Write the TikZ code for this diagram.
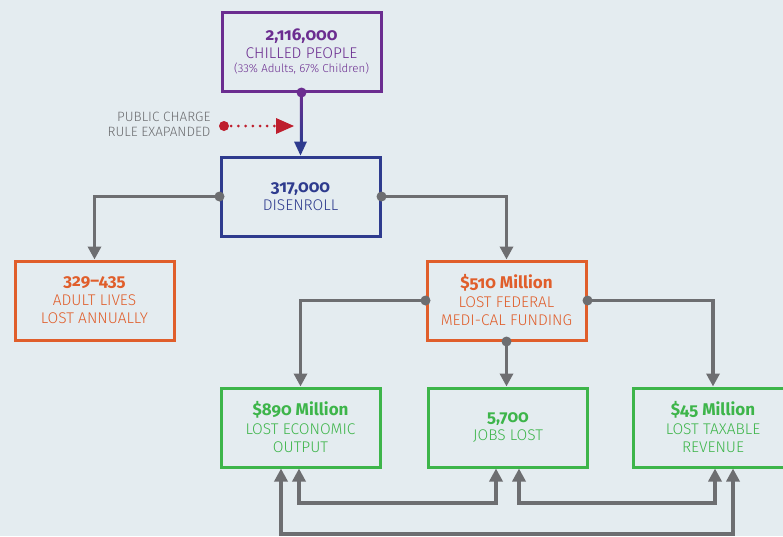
\documentclass[tikz,border=0pt]{standalone}
\usepackage{fontspec}
\setmainfont{Fira Sans Light}
\newfontfamily\numfont{Fira Sans}[Numbers=OldStyle]
\usetikzlibrary{arrows.meta,calc}
\definecolor{bgc}{HTML}{E4ECF0}
\definecolor{pur}{HTML}{6B2D90}
\definecolor{blu}{HTML}{2E3B8E}
\definecolor{org}{HTML}{E05E2B}
\definecolor{grn}{HTML}{3DB54A}
\definecolor{gry}{HTML}{6D6E71}
\definecolor{rd}{HTML}{BE1E2D}
\tikzset{
  box/.style={draw, line width=3pt, rectangle, minimum width=159pt, minimum height=79pt,
    inner sep=0pt, align=center, font=\fontsize{15.5}{18.5}\selectfont},
  conn/.style={draw=gry, line width=3.5pt, -{Triangle[width=13pt,length=13pt]}},
  biconn/.style={draw=gry, line width=3.5pt, {Triangle[width=13pt,length=13pt]}-{Triangle[width=13pt,length=13pt]}},
}
\newcommand{\bignum}[1]{{\numfont\bfseries\fontsize{17}{18.5}\selectfont #1}}
\begin{document}
\begin{tikzpicture}[x=1pt,y=-1pt]
\fill[bgc] (0,0) rectangle (783,536);
\useasboundingbox (0,0) rectangle (783,536);
\clip (0,0) rectangle (783,536);

\node[box, draw=pur, text=pur] (top) at (301.5,51.5)
  {\bignum{2,116,000}\\[-1pt]CHILLED PEOPLE\\[-4pt]{\fontsize{11.5}{14}\selectfont(33\% Adults, 67\% Children)}};
\node[box, draw=blu, text=blu] (dis) at (300.5,196.5) {\bignum{317,000}\\DISENROLL};
\node[box, draw=org, text=org] (adult) at (94.5,300.5) {\bignum{329–435}\\ADULT LIVES\\LOST ANNUALLY};
\node[box, draw=org, text=org] (fed) at (506.5,300.5) {\bignum{\$510 Million}\\LOST FEDERAL\\MEDI-CAL FUNDING};
\node[box, draw=grn, text=grn] (econ) at (300.5,427.5) {\bignum{\$890 Million}\\LOST ECONOMIC\\OUTPUT};
\node[box, draw=grn, text=grn] (jobs) at (508,427.5) {\bignum{5,700}\\JOBS LOST};
\node[box, draw=grn, text=grn, minimum width=160pt] (tax) at (713,427.5) {\bignum{\$45 Million}\\LOST TAXABLE\\REVENUE};

% purple / blue connector
\path[top color=pur, bottom color=blu] ($(top.south)+(-1.75,0)$) rectangle ($(dis.north)+(1.75,-12)$);
\fill[blu] (dis.north) -- ++(-6.5,-14) -- ++(13,0) -- cycle;
\fill[pur] (top.south) circle (5pt);

% public charge
\node[anchor=east, align=right, text=gry, font=\fontsize{13.5}{15}\selectfont] (pc) at (214,124.5) {PUBLIC CHARGE\\RULE EXAPANDED};
\coordinate (r1) at (224,126);
\coordinate (r2) at (294,126);
\draw[rd, line width=3pt, line cap=round, dash pattern=on 0pt off 7.2pt] (r1) -- ($(r2)+(-16,0)$);
\fill[rd] (r1) circle (5pt);
\fill[rd] (r2) -- ++(-18,-8) -- ++(0,16) -- cycle;

% gray connectors
\draw[conn] (dis.west) -| (adult.north);
\draw[conn] (dis.east) -| (fed.north);
\draw[conn] (fed.west) -| (econ.north);
\draw[conn] (fed.south) -- (fed.south |- jobs.north);
\draw[conn] (fed.east) -| (tax.north);
\foreach \a in {dis.west,dis.east,fed.west,fed.south,fed.east}
  \fill[gry] (\a) circle (5pt);

\coordinate (e1) at ([xshift=-1.5pt]econ.south);
\coordinate (j1) at ([xshift=-12pt]jobs.south);
\coordinate (j2) at ([xshift=11pt]jobs.south);
\coordinate (t1) at ([xshift=2pt]tax.south);
\coordinate (e2) at ([xshift=-19.5pt]econ.south);
\coordinate (t2) at ([xshift=20pt]tax.south);
\draw[biconn] (e1) -- (e1 |- 0,503) -- (j1 |- 0,503) -- (j1);
\draw[biconn] (j2) -- (j2 |- 0,503) -- (t1 |- 0,503) -- (t1);
\draw[biconn] (e2) -- (e2 |- 0,534) -- (t2 |- 0,534) -- (t2);
\end{tikzpicture}
\end{document}
